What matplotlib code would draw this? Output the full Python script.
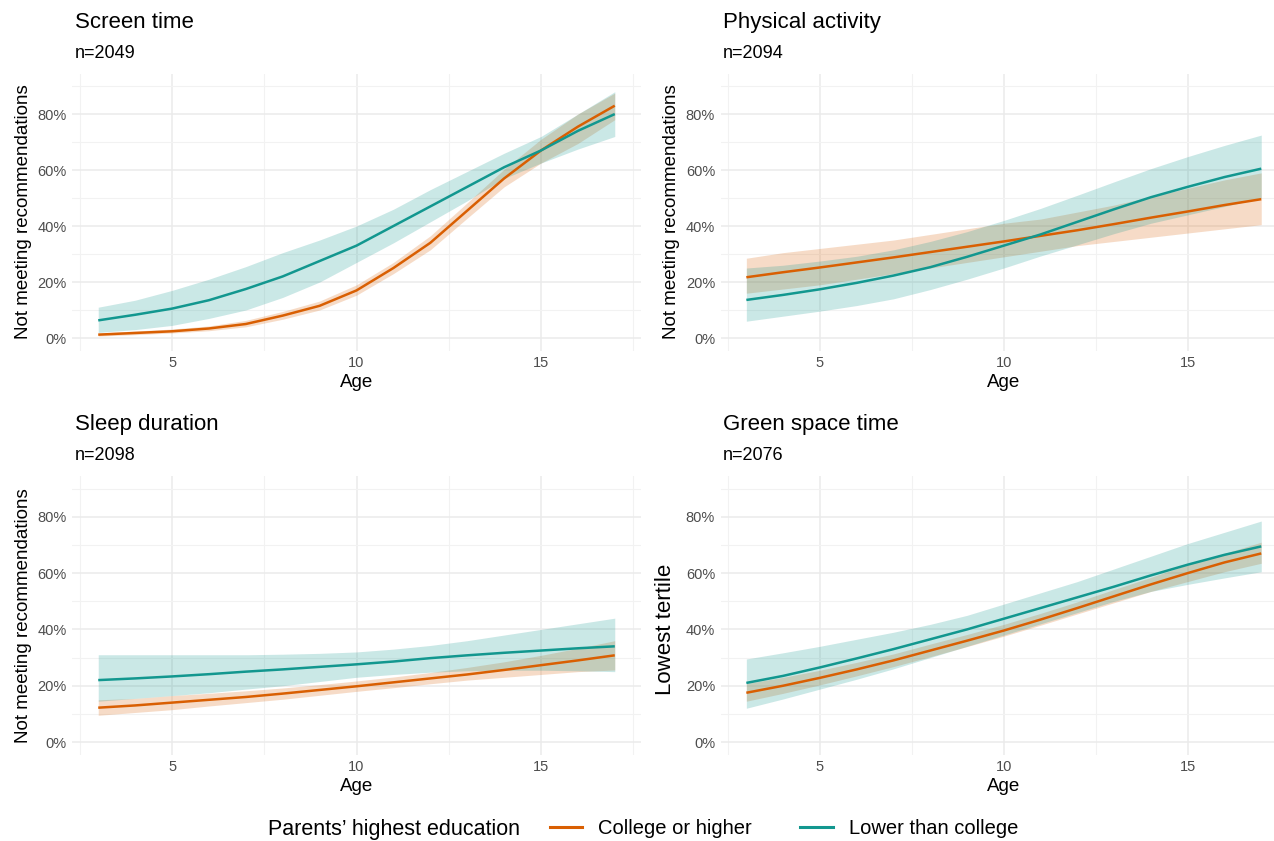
import numpy as np
import matplotlib.pyplot as plt
from matplotlib.lines import Line2D
from matplotlib.ticker import FuncFormatter, MultipleLocator

plt.rcParams['font.family'] = ['Liberation Sans', 'DejaVu Sans']

ages = [3, 4, 5, 6, 7, 8, 9, 10, 11, 12, 13, 14, 15, 16, 17]

# screen time (percent)
scr_col = [1.2, 1.8, 2.4, 3.4, 5, 8, 11.5, 17, 25, 34, 45.5, 57, 67, 75.5, 83]
scr_col_lo = [0.7, 1.2, 1.8, 2.6, 4, 6.7, 10, 15.3, 23, 31.5, 42.8, 54, 62.5, 69.5, 78]
scr_col_hi = [1.8, 2.5, 3.2, 4.3, 6.3, 9.5, 13.2, 19, 27, 36.5, 48.3, 60.3, 71, 80, 87.5]
scr_low = [6.3, 8.3, 10.5, 13.5, 17.5, 22, 27.5, 33, 40, 47, 54, 61, 67, 74, 80]
scr_low_lo = [2, 3, 4.5, 7, 10, 14.5, 20, 27, 34, 41.5, 49, 57, 62.5, 67.5, 72]
scr_low_hi = [11, 13.5, 17, 21, 25.5, 30.5, 35, 40, 46, 53, 59.5, 66, 72, 80, 88]

# physical activity
pa_col = [21.7, 23.5, 25.2, 27, 28.8, 30.7, 32.6, 34.5, 36.5, 38.5, 40.7, 43, 45.2, 47.5, 49.6]
pa_col_lo = [16, 17.5, 19, 21, 23, 25, 27, 29, 31, 33, 34.5, 36, 37.5, 39, 40.5]
pa_col_hi = [28.5, 30.5, 32, 33.5, 35, 37, 39, 41, 42.5, 45, 47.5, 50.5, 53.5, 56.5, 59]
pa_low = [13.6, 15.4, 17.4, 19.7, 22.3, 25.3, 29, 33, 37, 41.5, 46, 50.3, 54, 57.5, 60.5]
pa_low_lo = [6, 7.8, 9.6, 11.6, 14, 17.3, 21, 25, 29.3, 33.3, 37.3, 41, 44, 47, 50]
pa_low_hi = [25, 26, 27.5, 29.2, 31.5, 34.5, 38, 42, 46.3, 51, 55.8, 60.5, 64.8, 68.8, 72.5]

# sleep duration
sl_col = [12.2, 13, 14, 15, 16, 17.2, 18.5, 19.8, 21.2, 22.6, 24, 25.6, 27.3, 29, 30.8]
sl_col_lo = [9.5, 10.5, 11.5, 12.8, 14, 15.2, 16.6, 18, 19.3, 20.7, 22, 23, 24, 25, 25.6]
sl_col_hi = [15, 15.5, 16.5, 17.3, 18.2, 19.2, 20.4, 21.7, 23.1, 24.7, 26.5, 28.5, 30.8, 33.3, 36]
sl_low = [22, 22.6, 23.3, 24.1, 25, 25.8, 26.7, 27.6, 28.6, 29.8, 30.8, 31.7, 32.5, 33.3, 34]
sl_low_lo = [14.5, 15.5, 16.5, 17.5, 18.8, 20, 21.5, 23, 24, 24.8, 25.3, 25.5, 25.5, 25.3, 25]
sl_low_hi = [31, 31, 31, 31, 31, 31.2, 31.5, 32, 33, 34.3, 36, 38, 40, 42, 44]

# green space time
gs_col = [17.5, 20, 22.8, 25.8, 29, 32.5, 36, 39.6, 43.5, 47.6, 51.8, 56, 60, 63.8, 67]
gs_col_lo = [14.5, 17.3, 20.3, 23.5, 26.8, 30.3, 33.9, 37.6, 41.5, 45.5, 49.5, 53.5, 57, 60.5, 63.5]
gs_col_hi = [20.8, 23, 25.5, 28.3, 31.3, 34.8, 38.2, 41.8, 45.7, 49.8, 54.2, 58.5, 63, 67, 71]
gs_low = [21, 23.5, 26.5, 29.7, 33, 36.5, 40, 43.8, 47.6, 51.4, 55.2, 59.2, 63, 66.5, 69.5]
gs_low_lo = [12, 15.3, 18.8, 22.3, 26, 30, 34, 38, 42, 46, 50, 53.5, 56, 58.3, 60.5]
gs_low_hi = [29.5, 31.7, 34, 36.5, 39, 41.8, 45, 49, 53, 57, 61.5, 66, 70.5, 74.5, 78.5]

titles = ["Screen time", "Physical activity", "Sleep duration", "Green space time"]
subtitles = ["n=2049", "n=2094", "n=2098", "n=2076"]
ylabels = ["Not meeting recommendations", "Not meeting recommendations",
           "Not meeting recommendations", "Lowest tertile"]
groups = ["College or higher", "Lower than college"]

panels = [
    (scr_col, scr_col_lo, scr_col_hi, scr_low, scr_low_lo, scr_low_hi),
    (pa_col, pa_col_lo, pa_col_hi, pa_low, pa_low_lo, pa_low_hi),
    (sl_col, sl_col_lo, sl_col_hi, sl_low, sl_low_lo, sl_low_hi),
    (gs_col, gs_col_lo, gs_col_hi, gs_low, gs_low_lo, gs_low_hi),
]

orange = '#D95F02'
teal = '#12978F'

fig = plt.figure(figsize=(12.74, 8.41), dpi=100)

W = 1274
H = 841
# axes boxes in pixels: left, right, top, bottom
boxes = [
    (72.4, 640.6, 73.5, 350.6),
    (720.6, 1287.0, 73.5, 350.6),
    (72.4, 640.6, 476.0, 754.7),
    (720.6, 1287.0, 476.0, 754.7),
]

pct = FuncFormatter(lambda v, p: f"{v:.0f}%")

for i, (box, data) in enumerate(zip(boxes, panels)):
    l, r, t, b = box
    ax = fig.add_axes([l / W, 1 - b / H, (r - l) / W, (b - t) / H])
    c, clo, chi, lw_, llo, lhi = data
    ax.fill_between(ages, clo, chi, color=orange, alpha=0.22, lw=0)
    ax.fill_between(ages, llo, lhi, color=teal, alpha=0.22, lw=0)
    ax.plot(ages, c, color=orange, lw=1.8, solid_capstyle='butt')
    ax.plot(ages, lw_, color=teal, lw=1.8, solid_capstyle='butt')

    ax.set_xlim(2.3, 17.7)
    ax.set_ylim(-4.5, 94.5)
    ax.xaxis.set_major_locator(MultipleLocator(5))
    ax.xaxis.set_minor_locator(MultipleLocator(2.5))
    ax.set_yticks([0, 20, 40, 60, 80])
    ax.set_yticks([10, 30, 50, 70, 90], minor=True)
    ax.yaxis.set_major_formatter(pct)
    ax.grid(which='major', color='#EBEBEB', lw=1.1)
    ax.grid(which='minor', color='#F2F2F2', lw=0.8)
    ax.set_axisbelow(True)
    for s in ax.spines.values():
        s.set_visible(False)
    ax.tick_params(which='both', length=0)
    ax.tick_params(axis='both', labelsize=10.5, labelcolor='#4D4D4D', pad=4)

    ax.set_xlabel("Age", fontsize=13.5, labelpad=3)
    if i == 3:
        ax.set_ylabel(ylabels[i], fontsize=16)
        ax.yaxis.set_label_coords(-0.078, 0.45)
    else:
        ax.set_ylabel(ylabels[i], fontsize=13.5, labelpad=4)

    fig.text((l + 2.5) / W, 1 - (t - 51) / H, titles[i], fontsize=16,
             ha='left', va='center')
    fig.text((l + 2.5) / W, 1 - (t - 20) / H, subtitles[i], fontsize=13,
             ha='left', va='center')

fig.text(268 / W, 1 - 829 / H, "Parents\u2019 highest education", fontsize=15.5,
         ha='left', va='center')
handles = [Line2D([], [], color=orange, lw=2.2), Line2D([], [], color=teal, lw=2.2)]
fig.legend(handles, groups, loc='center left', bbox_to_anchor=(550 / W, 1 - 829 / H),
           ncol=2, frameon=False, fontsize=14.5, handlelength=1.6,
           handletextpad=0.8, columnspacing=2.4, borderaxespad=0, borderpad=0)

fig.savefig('out.png', dpi=100, facecolor='white')
